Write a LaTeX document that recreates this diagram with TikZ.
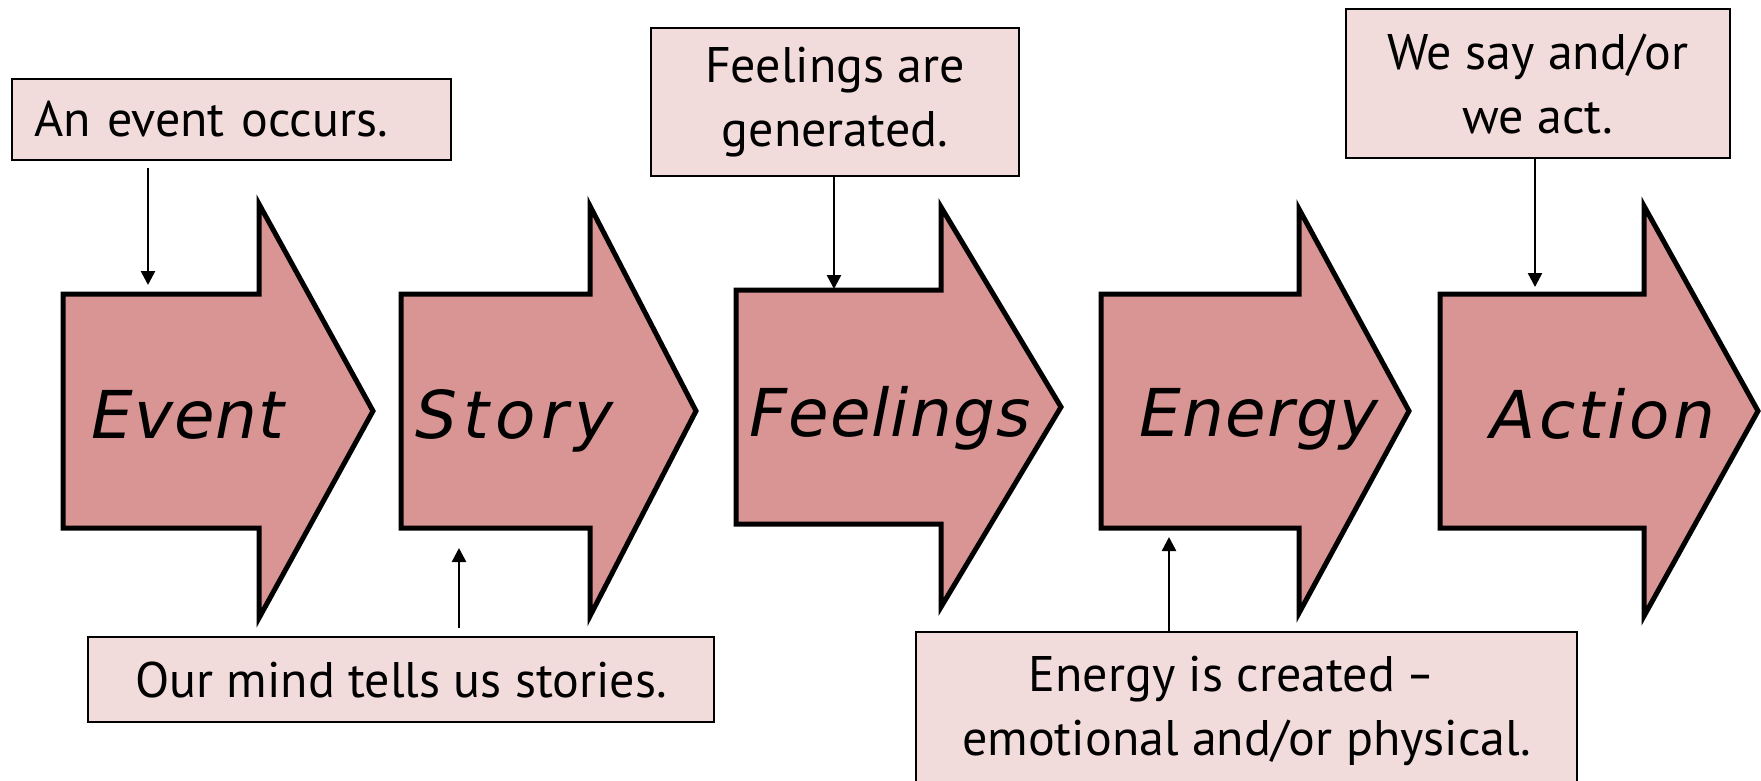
\documentclass[tikz,border=0pt]{standalone}
\usepackage{fontspec}
\setmainfont{PT Sans}
\newfontfamily\labelfont{DejaVu Sans}
\usetikzlibrary{arrows.meta}
\definecolor{chevfill}{HTML}{D99594}
\definecolor{boxfill}{HTML}{F2DCDB}
\newcommand\spaced[2]{{\addfontfeature{LetterSpace=#1}#2}}
\begin{document}
\begin{tikzpicture}[x=1pt,y=-1pt,
  chev/.style={fill=chevfill, draw=black, line width=5pt, line join=miter},
  chevtext/.style={font=\labelfont\itshape\fontsize{66}{70}\selectfont, anchor=base, inner sep=0pt},
  tbox/.style={draw=black, line width=2pt, fill=boxfill, font=\fontsize{50}{64}\selectfont, align=center, inner sep=0pt},
  conn/.style={line width=2.5pt, -{Triangle[width=14pt,length=14pt]}}]
\useasboundingbox (0,0) rectangle (1761,780);
\clip (0,0) rectangle (1761,780);

% the five block arrows: left edge, shaft end, tip, centre line, head half-height
\foreach \n/\L/\S/\T/\c/\h in {ev/63/259/373/411/207, st/401/590/696/411/205,
    fe/736/941/1061/407/200, en/1101/1299/1409/411/202, ac/1440/1644/1758/411/205}
  \draw[chev] (\L,\c-117) -- (\S,\c-117) -- (\S,\c-\h) -- (\T,\c)
      -- (\S,\c+\h) -- (\S,\c+117) -- (\L,\c+117) -- cycle;

\node[chevtext] (tev) at (188,438) {\spaced{1.5}{Event}};
\node[chevtext] (tst) at (515,438) {\spaced{9}{Story}};
\node[chevtext] (tfe) at (890,436) {\spaced{1.5}{Feelings}};
\node[chevtext] (ten) at (1259,436) {\spaced{2}{Energy}};
\node[chevtext] (tac) at (1603,438) {\spaced{5}{Action}};

% caption boxes
\node[tbox, inner xsep=22pt, text width=395pt, align=left, minimum height=81pt] (bev) at (231.5,119.5) {An event occurs.};
\node[tbox, minimum width=368pt, minimum height=148pt] (bfe) at (835,102) {Feelings are\\generated.};
\node[tbox, minimum width=384pt, minimum height=149pt] (bac) at (1538,83.5) {We say and/or\\we act.};
\node[tbox, minimum width=626pt, minimum height=85pt] (bst) at (401,679.5) {Our mind tells us stories.};
\node[tbox, minimum width=661pt, anchor=north, inner ysep=24pt] (ben) at (1246.5,631)
  {Energy is created\hspace{-2pt} \scalebox{0.85}[1]{--}\kern30pt\\emotional and/or physical.};

% where the pointers meet the arrows
\coordinate (evin) at (148,285);
\coordinate (fein) at (834,289);
\coordinate (acin) at (1535,287);
\coordinate (stin) at (459,548);
\coordinate (enin) at (1169,537);

\draw[conn, shorten <=7pt] (bev.south -| evin) -- (evin);
\draw[conn] (bfe.south -| fein) -- (fein);
\draw[conn] (bac.south -| acin) -- (acin);
\draw[conn, shorten <=8pt] (bst.north -| stin) -- (stin);
\draw[conn] (ben.north -| enin) -- (enin);
\end{tikzpicture}
\end{document}
